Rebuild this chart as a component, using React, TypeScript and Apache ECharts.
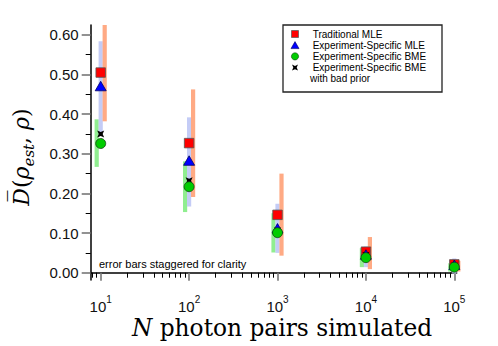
import React, { useEffect, useRef } from 'react';
import * as echarts from 'echarts';

// ---- data ----
const N = [10, 100, 1000, 10000, 100000];
const tradMLE = [0.505, 0.327, 0.146, 0.053, 0.021];
const expMLE = [0.471, 0.283, 0.112, 0.046, 0.02];
const expBMEBad = [0.35, 0.232, 0.106, 0.044, 0.017];
const expBME = [0.326, 0.217, 0.101, 0.038, 0.014];
const tradLow = [0.382, 0.191, 0.043, 0.009, 0.003];
const tradHigh = [0.63, 0.4625, 0.25, 0.09, 0.03];
const mleLow = [0.352, 0.167, 0.05, 0.014, -0.002];
const mleHigh = [0.584, 0.392, 0.174, 0.066, 0.036];
const bmeLow = [0.267, 0.153, 0.051, 0.014, 0.003];
const bmeHigh = [0.387, 0.281, 0.15, 0.062, 0.024];
const yMajorTicks = [0, 0.1, 0.2, 0.3, 0.4, 0.5, 0.6];
const yMinorTicks = [0.05, 0.15, 0.25, 0.35, 0.45, 0.55];
const xMajorExponents = [1, 2, 3, 4, 5];
const xMinorMantissas = [2, 3, 4, 5, 6, 7, 8, 9];
const xDecades = [1, 10, 100, 1000, 10000];
const legendNames = ['Traditional MLE', 'Experiment-Specific MLE', 'Experiment-Specific BME', 'Experiment-Specific BME'];
const legendExtra = 'with bad prior';

const X_MIN = 0.887;
const X_MAX = 5.027;
const Y_MIN = -0.0184;
const Y_MAX = 0.625;

const STAR_PATH = 'path://M0 0 L5 2.2 L10 0 L7.8 5 L10 10 L5 7.8 L0 10 L2.2 5 Z';
const BAD_NAME = 'Experiment-Specific BME (bad prior)';

export default function App() {
  const ref = useRef<HTMLDivElement>(null);
  useEffect(() => {
    if (!ref.current) return;
    const chart = echarts.init(ref.current, undefined, { renderer: 'svg' });
    const lx = (n: number) => Math.log10(n);
    const minorX: number[] = [];
    xDecades.forEach((d) => xMinorMantissas.forEach((m) => {
      const v = Math.log10(d * m);
      if (v > X_MIN && v < X_MAX) minorX.push(v);
    }));

    const errSeries = (name: string, low: number[], high: number[], color: string, offset: number) => ({
      type: 'custom',
      name,
      z: 2,
      silent: true,
      xAxisIndex: 0,
      yAxisIndex: 0,
      data: N.map((n, i) => [lx(n), low[i], high[i]]),
      encode: { x: 0, y: [1, 2] },
      renderItem: (params: any, api: any) => {
        const x = api.value(0);
        const p1 = api.coord([x, api.value(2)]);
        const p2 = api.coord([x, api.value(1)]);
        const cs = params.coordSys;
        const top = Math.max(p1[1], cs.y);
        const bot = Math.min(p2[1], cs.y + cs.height);
        return {
          type: 'rect',
          shape: { x: p1[0] + offset - 2.1, y: top, width: 4.2, height: bot - top },
          style: { fill: color },
        };
      },
    });

    const scatter = (name: string, vals: number[], symbol: string, size: any, color: string, border: string, bw: number, z: number) => ({
      type: 'scatter',
      name,
      z,
      xAxisIndex: 0,
      yAxisIndex: 0,
      symbol,
      symbolSize: size,
      itemStyle: { color, borderColor: border, borderWidth: bw, opacity: 1 },
      data: N.map((n, i) => [lx(n), vals[i]]),
    });

    const tickFont = 'Liberation Sans';
    const rowY = [34, 45.2, 56.4, 67.6];
    const extraY = 78.8;
    const mx = 295;
    const legendFont = `10px ${tickFont}`;
    const starPts = (cx: number, cy: number, s: number) => {
      const h = s / 2, k = s * 0.22;
      return [[cx - h, cy - h], [cx, cy - h + k], [cx + h, cy - h], [cx + h - k, cy], [cx + h, cy + h], [cx, cy + h - k], [cx - h, cy + h], [cx - h + k, cy]];
    };
    const legendGraphics: any[] = [
      { type: 'rect', z: 10, shape: { x: 283, y: 25, width: 159, height: 67 }, style: { fill: 'none', stroke: '#222', lineWidth: 1.3 } },
      { type: 'rect', z: 11, shape: { x: mx - 3.5, y: rowY[0] - 3.5, width: 7, height: 7 }, style: { fill: '#ff0000', stroke: '#555', lineWidth: 0.7 } },
      { type: 'polygon', z: 11, shape: { points: [[mx, rowY[1] - 3.6], [mx - 4, rowY[1] + 3.4], [mx + 4, rowY[1] + 3.4]] }, style: { fill: '#0000ff', stroke: '#000066', lineWidth: 0.6 } },
      { type: 'circle', z: 11, shape: { cx: mx, cy: rowY[2], r: 3.6 }, style: { fill: '#00cc00', stroke: '#114411', lineWidth: 0.6 } },
      { type: 'polygon', z: 11, shape: { points: starPts(mx, rowY[3], 6) }, style: { fill: '#000' } },
      ...legendNames.map((t, i) => ({
        type: 'text', x: 312.7, y: rowY[i], z: 11,
        style: { text: t, font: legendFont, lineHeight: 10, fill: '#000', verticalAlign: 'middle' },
      })),
      { type: 'text', x: 310, y: extraY, z: 11, style: { text: legendExtra, font: legendFont, lineHeight: 10, fill: '#000', verticalAlign: 'middle' } },
    ];

    chart.setOption({
      animation: false,
      grid: { left: 90.7, top: 25, width: 366, height: 255 },
      xAxis: [
        {
          type: 'value', min: X_MIN, max: X_MAX,
          axisLine: { show: true, lineStyle: { color: '#000', width: 1.5 } },
          axisTick: { show: true, customValues: xMajorExponents, length: 8, lineStyle: { color: '#777', width: 1.6 } },
          axisLabel: {
            customValues: xMajorExponents,
            margin: 14,
            formatter: (v: number) => `{b|10}{s|${Math.round(v)}}`,
            rich: {
              b: { fontSize: 15, fontFamily: tickFont, color: '#111', lineHeight: 24 },
              s: { fontSize: 10, fontFamily: tickFont, color: '#111', verticalAlign: 'top', lineHeight: 10 },
            },
          },
          splitLine: { show: false },
        },
        {
          type: 'value', min: X_MIN, max: X_MAX, position: 'bottom',
          axisLine: { show: false },
          axisTick: { show: true, customValues: minorX, length: 5, lineStyle: { color: '#000', width: 1 } },
          axisLabel: { show: false },
          splitLine: { show: false },
        },
      ],
      yAxis: [
        {
          type: 'value', min: Y_MIN, max: Y_MAX,
          axisLine: { show: true, lineStyle: { color: '#000', width: 1.5 } },
          axisTick: { show: true, customValues: yMajorTicks, length: 9, lineStyle: { color: '#777', width: 1.6 } },
          axisLabel: {
            customValues: yMajorTicks, margin: 12,
            formatter: (v: number) => v.toFixed(2),
            fontSize: 15, fontFamily: tickFont, color: '#111',
          },
          splitLine: { show: false },
        },
        {
          type: 'value', min: Y_MIN, max: Y_MAX, position: 'left',
          axisLine: { show: false },
          axisTick: { show: true, customValues: yMinorTicks, length: 5, lineStyle: { color: '#000', width: 1 } },
          axisLabel: { show: false },
          splitLine: { show: false },
        },
      ],
      graphic: [
        ...legendGraphics,
        {
          type: 'text', x: 99, y: 264, z: 10,
          style: { text: 'error bars staggered for clarity', font: `11px ${tickFont}`, fill: '#000', verticalAlign: 'middle' },
        },
        {
          type: 'text', x: 282, y: 327, z: 10,
          style: {
            text: '{i|N} photon pairs simulated',
            fontFamily: 'DejaVu Serif', fontSize: 23.3, fill: '#000',
            align: 'center', verticalAlign: 'middle',
            rich: { i: { fontFamily: 'DejaVu Serif', fontStyle: 'italic', fontSize: 23.3 } },
          },
        },
        {
          type: 'text', x: 21, y: 157, rotation: Math.PI / 2, z: 10,
          style: {
            text: '{i|D\u0305}{r|(}{i|\u03C1}{sub|est}{r|, }{i|\u03C1}{r|)}',
            fontFamily: 'DejaVu Serif', fontSize: 22, fill: '#000',
            align: 'center', verticalAlign: 'middle',
            rich: {
              i: { fontFamily: 'DejaVu Serif', fontStyle: 'italic', fontSize: 22, lineHeight: 30 },
              r: { fontFamily: 'DejaVu Serif', fontSize: 22, lineHeight: 30 },
              sub: { fontFamily: 'DejaVu Serif', fontStyle: 'italic', fontSize: 15, lineHeight: 16, verticalAlign: 'bottom' },
            },
          },
        },
      ],
      series: [
        errSeries('bmeErr', bmeLow, bmeHigh, '#90ee90', -4),
        errSeries('mleErr', mleLow, mleHigh, '#c4ccf6', 0),
        errSeries('tradErr', tradLow, tradHigh, '#ffaa84', 4),
        scatter('Traditional MLE', tradMLE, 'rect', 9.5, '#ff0000', '#555', 0.8, 5),
        scatter('Experiment-Specific MLE', expMLE, 'triangle', [11, 9.5], '#0000ff', '#000066', 0.8, 6),
        scatter(BAD_NAME, expBMEBad, STAR_PATH, 7, '#000', '#000', 0, 7),
        scatter('Experiment-Specific BME', expBME, 'circle', 10, '#00cc00', '#114411', 0.8, 8),
      ],
    });
    return () => chart.dispose();
  }, []);
  return <div ref={ref} style={{ position: 'absolute', left: 0, top: 0, width: 498, height: 346 }} />;
}
